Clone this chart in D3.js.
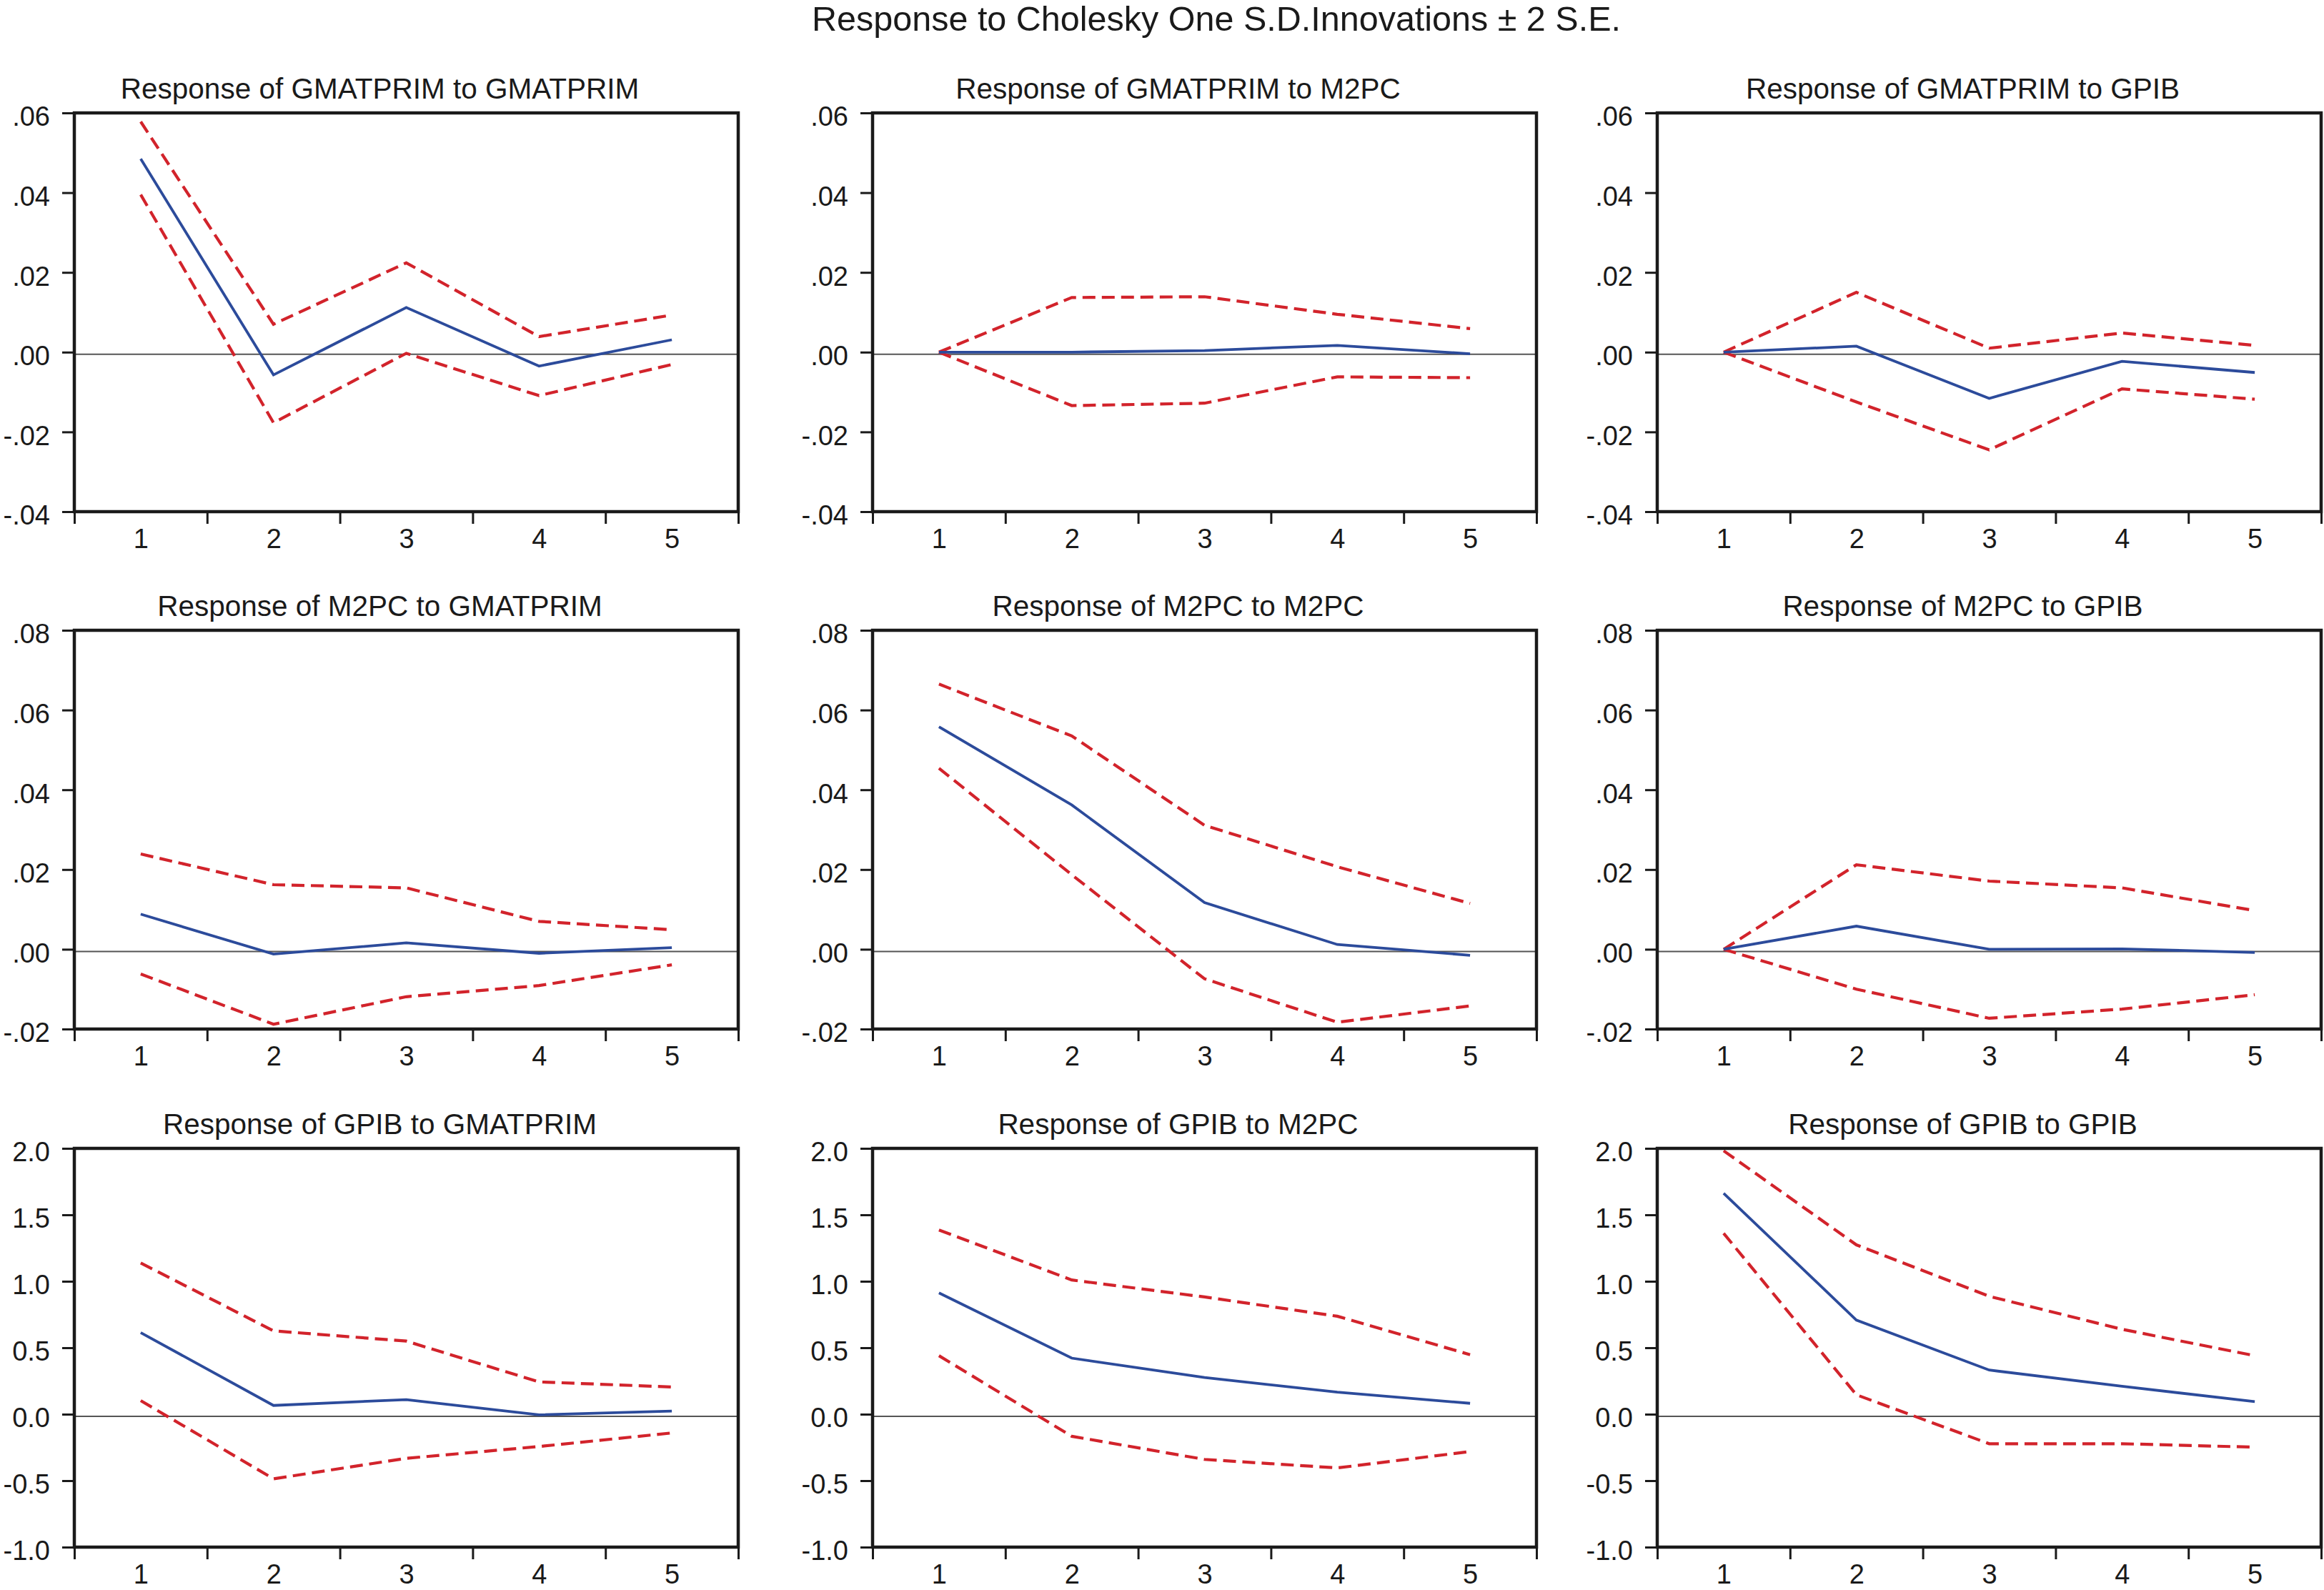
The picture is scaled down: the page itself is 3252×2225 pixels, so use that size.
<!DOCTYPE html>
<html>
<head>
<meta charset="utf-8">
<script src="https://cdn.jsdelivr.net/npm/d3@7/dist/d3.min.js"></script>
<style>
  html, body { margin: 0; padding: 0; background: #ffffff; }
  svg { display: block; }
  text { font-family: "Liberation Sans", Arial, Helvetica, sans-serif; fill: #1a1a1a; }
</style>
</head>
<body>
<svg id="chart" width="3252" height="2225"></svg>
<script>
// ---------------- DATA ----------------
const periods = [1, 2, 3, 4, 5];
const variables = ["GMATPRIM", "M2PC", "GPIB"];
const mainTitle = "Response to Cholesky One S.D.Innovations \u00B1 2 S.E.";

// Row 1: Response of GMATPRIM
const gmGm_resp  = [0.0485, -0.0057, 0.0112, -0.0035, 0.0031];
const gmGm_upper = [0.0578, 0.0070, 0.0224, 0.0039, 0.0093];
const gmGm_lower = [0.0395, -0.0177, -0.0003, -0.0109, -0.0031];

const gmM2_resp  = [0.0000, 0.0000, 0.0004, 0.0017, -0.0004];
const gmM2_upper = [0.0000, 0.0137, 0.0139, 0.0095, 0.0059];
const gmM2_lower = [0.0000, -0.0134, -0.0128, -0.0062, -0.0064];

const gmGp_resp  = [0.0000, 0.0015, -0.0116, -0.0023, -0.0051];
const gmGp_upper = [0.0000, 0.0150, 0.0010, 0.0048, 0.0017];
const gmGp_lower = [0.0000, -0.0125, -0.0245, -0.0092, -0.0118];

// Row 2: Response of M2PC
const m2Gm_resp  = [0.0088, -0.0012, 0.0016, -0.0010, 0.0004];
const m2Gm_upper = [0.0239, 0.0162, 0.0154, 0.0070, 0.0049];
const m2Gm_lower = [-0.0062, -0.0188, -0.0119, -0.0091, -0.0039];

const m2M2_resp  = [0.0558, 0.0362, 0.0117, 0.0012, -0.0015];
const m2M2_upper = [0.0665, 0.0535, 0.0311, 0.0207, 0.0115];
const m2M2_lower = [0.0454, 0.0187, -0.0074, -0.0183, -0.0142];

const m2Gp_resp  = [0.0000, 0.0058, 0.0000, 0.0001, -0.0008];
const m2Gp_upper = [0.0000, 0.0212, 0.0171, 0.0154, 0.0097];
const m2Gp_lower = [0.0000, -0.0100, -0.0173, -0.0150, -0.0114];

// Row 3: Response of GPIB
const gpGm_resp  = [0.614, 0.066, 0.110, -0.005, 0.023];
const gpGm_upper = [1.138, 0.627, 0.550, 0.243, 0.205];
const gpGm_lower = [0.102, -0.486, -0.332, -0.243, -0.141];

const gpM2_resp  = [0.913, 0.422, 0.276, 0.166, 0.082];
const gpM2_upper = [1.386, 1.010, 0.882, 0.737, 0.448];
const gpM2_lower = [0.440, -0.166, -0.340, -0.404, -0.281];

const gpGp_resp  = [1.662, 0.708, 0.332, 0.210, 0.095];
const gpGp_upper = [1.982, 1.274, 0.887, 0.639, 0.440];
const gpGp_lower = [1.361, 0.146, -0.222, -0.222, -0.248];

// Axis tick values and labels per row
const row1Ticks = [-0.04, -0.02, 0.00, 0.02, 0.04, 0.06];
const row1Labels = ["-.04", "-.02", ".00", ".02", ".04", ".06"];
const row2Ticks = [-0.02, 0.00, 0.02, 0.04, 0.06, 0.08];
const row2Labels = ["-.02", ".00", ".02", ".04", ".06", ".08"];
const row3Ticks = [-1.0, -0.5, 0.0, 0.5, 1.0, 1.5, 2.0];
const row3Labels = ["-1.0", "-0.5", "0.0", "0.5", "1.0", "1.5", "2.0"];
const xBoundaryTicks = [0.5, 1.5, 2.5, 3.5, 4.5, 5.5];
const periodLabels = ["1", "2", "3", "4", "5"];

const panelData = [
  [[gmGm_resp, gmGm_upper, gmGm_lower], [gmM2_resp, gmM2_upper, gmM2_lower], [gmGp_resp, gmGp_upper, gmGp_lower]],
  [[m2Gm_resp, m2Gm_upper, m2Gm_lower], [m2M2_resp, m2M2_upper, m2M2_lower], [m2Gp_resp, m2Gp_upper, m2Gp_lower]],
  [[gpGm_resp, gpGm_upper, gpGm_lower], [gpM2_resp, gpM2_upper, gpM2_lower], [gpGp_resp, gpGp_upper, gpGp_lower]]
];
const rowTicks = [row1Ticks, row2Ticks, row3Ticks];
const rowLabels = [row1Labels, row2Labels, row3Labels];

// ---------------- LAYOUT ----------------
const colLeft = [104, 1221, 2319];
const frameW = 929;
const rowTop = [158, 882, 1607];
const frameH = 558;

const blue = "#2C4B9B";
const red = "#D2232B";
const ink = "#1a1a1a";

const svg = d3.select("#chart");

svg.append("text")
  .attr("x", 1702)
  .attr("y", 43)
  .attr("text-anchor", "middle")
  .style("font-size", "48.5px")
  .text(mainTitle);

for (let r = 0; r < 3; r++) {
  for (let c = 0; c < 3; c++) {
    const x0 = colLeft[c], y0 = rowTop[r];
    const ticks = rowTicks[r];
    const labels = rowLabels[r];
    const x = d3.scaleLinear().domain([0.5, 5.5]).range([x0, x0 + frameW]);
    const y = d3.scaleLinear().domain(d3.extent(ticks)).range([y0 + frameH, y0]);
    const g = svg.append("g");

    // panel title
    g.append("text")
      .attr("x", x0 + frameW / 2 - 37)
      .attr("y", y0 - 20)
      .attr("text-anchor", "middle")
      .style("font-size", "40.5px")
      .text("Response of " + variables[r] + " to " + variables[c]);

    // zero line
    g.append("line")
      .attr("x1", x0).attr("x2", x0 + frameW)
      .attr("y1", y(0) + 3).attr("y2", y(0) + 3)
      .attr("stroke", "#555").attr("stroke-width", 2);

    const [resp, upper, lower] = panelData[r][c];
    const line = d3.line().x((d, i) => x(periods[i])).y(d => y(d));

    [upper, lower].forEach(band => {
      g.append("path")
        .datum(band)
        .attr("d", line)
        .attr("fill", "none")
        .attr("stroke", red)
        .attr("stroke-width", 4.2)
        .attr("stroke-dasharray", "18,9");
    });
    g.append("path")
      .datum(resp)
      .attr("d", line)
      .attr("fill", "none")
      .attr("stroke", blue)
      .attr("stroke-width", 3.8);

    // y axis
    const ya = g.append("g")
      .attr("transform", `translate(${x0},0)`)
      .call(d3.axisLeft(y).tickValues(ticks).tickSize(17).tickPadding(17)
        .tickFormat((d, i) => labels[i]));
    ya.select(".domain").remove();
    ya.selectAll(".tick line").attr("stroke", ink).attr("stroke-width", 3);
    ya.selectAll(".tick text")
      .attr("dy", "0.47em")
      .style("font-size", "38px")
      .style("font-family", "'Liberation Sans', Arial, sans-serif")
      .attr("fill", ink);

    // x axis: boundary ticks
    const xa = g.append("g")
      .attr("transform", `translate(0,${y0 + frameH})`)
      .call(d3.axisBottom(x).tickValues(xBoundaryTicks).tickSize(17).tickFormat(""));
    xa.select(".domain").remove();
    xa.selectAll(".tick line").attr("stroke", ink).attr("stroke-width", 3);

    // x axis: period labels
    const xl = g.append("g")
      .attr("transform", `translate(0,${y0 + frameH})`)
      .call(d3.axisBottom(x).tickValues(periods).tickSize(0).tickPadding(24)
        .tickFormat((d, i) => periodLabels[i]));
    xl.select(".domain").remove();
    xl.selectAll(".tick text")
      .style("font-size", "38px")
      .style("font-family", "'Liberation Sans', Arial, sans-serif")
      .attr("fill", ink);

    // frame
    g.append("rect")
      .attr("x", x0).attr("y", y0)
      .attr("width", frameW).attr("height", frameH)
      .attr("fill", "none")
      .attr("stroke", ink)
      .attr("stroke-width", 4.5);
  }
}
</script>
</body>
</html>
